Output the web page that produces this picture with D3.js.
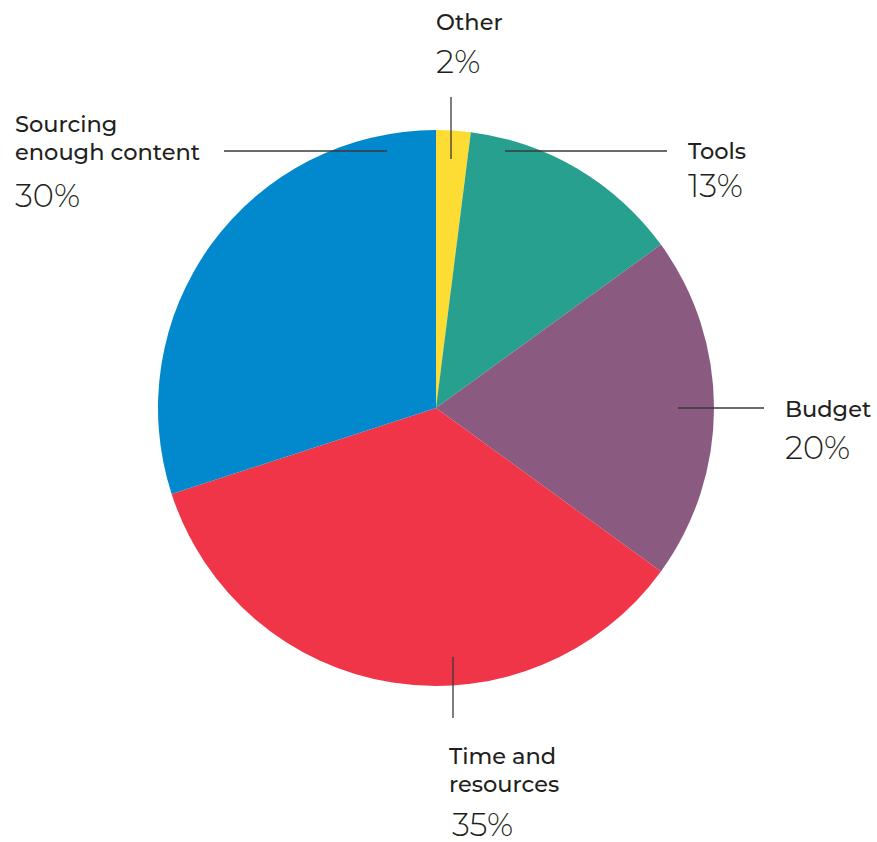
<!DOCTYPE html>
<html>
<head>
<meta charset="utf-8">
<script src="https://cdn.jsdelivr.net/npm/d3@7"></script>
<style>
  html, body { margin: 0; padding: 0; background: #fff; }
  svg { display: block; }
  .lbl { font-family: "Montserrat", "Lato", "Noto Sans", sans-serif; font-weight: 500; font-size: 22.5px; fill: #231f20; }
  .pct { font-family: "Montserrat", "Lato", "Noto Sans", sans-serif; font-weight: 300; font-size: 32px; fill: #231f20; }
</style>
</head>
<body>
<script>
// ---- data ----
const categories = ["Other", "Tools", "Budget", "Time and resources", "Sourcing enough content"];
const values = [2, 13, 20, 35, 30];
const colors = ["#FDDC34", "#28A08F", "#8A5A80", "#EF3547", "#0288CC"];
const labelLines = [["Other"], ["Tools"], ["Budget"], ["Time and", "resources"], ["Sourcing", "enough content"]];

// ---- layout (not data) ----
const W = 877, H = 842;
const cx = 436, cy = 408, R = 278;
const layout = {
  "Other":                   { line: [[451, 97], [451, 159]], tx: 436, ty: [30], py: 73 },
  "Tools":                   { line: [[505, 151], [667, 151]], tx: 688, ty: [159], py: 197 },
  "Budget":                  { line: [[678, 408], [764, 408]], tx: 785, ty: [417], py: 459 },
  "Time and resources":      { line: [[453, 657], [453, 718]], tx: 449, ty: [764, 792], py: 836, px: 452 },
  "Sourcing enough content": { line: [[224, 151], [387, 151]], tx: 15, ty: [132, 160], py: 207 }
};

const svg = d3.select("body").append("svg").attr("width", W).attr("height", H);

const pie = d3.pie().sort(null).value(d => d.value);
const arc = d3.arc().innerRadius(0).outerRadius(R);
const data = categories.map((c, i) => ({ cat: c, value: values[i], color: colors[i], lines: labelLines[i] }));

const g = svg.append("g").attr("transform", `translate(${cx},${cy})`);
g.selectAll("path").data(pie(data)).join("path")
  .attr("d", arc)
  .attr("fill", d => d.data.color);

const ann = svg.append("g");
data.forEach(d => {
  const L = layout[d.cat];
  ann.append("line")
    .attr("x1", L.line[0][0]).attr("y1", L.line[0][1])
    .attr("x2", L.line[1][0]).attr("y2", L.line[1][1])
    .attr("stroke", "#3a3a3a").attr("stroke-width", 1.3);
  d.lines.forEach((t, i) => {
    ann.append("text").attr("class", "lbl").attr("x", L.tx).attr("y", L.ty[i]).text(t);
  });
  ann.append("text").attr("class", "pct").attr("x", L.px != null ? L.px : L.tx).attr("y", L.py).text(d.value + "%");
});
</script>
</body>
</html>
